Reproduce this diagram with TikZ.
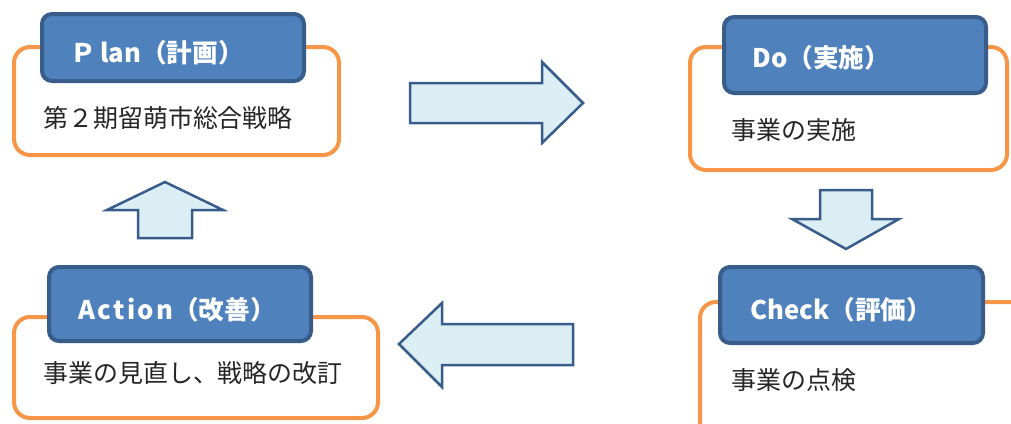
\documentclass[tikz,border=0pt]{standalone}
\usepackage{fontspec}
\newfontfamily\cjk{Noto Sans CJK JP}
\usetikzlibrary{positioning}
\definecolor{headblue}{HTML}{4F81BD}
\definecolor{headline}{HTML}{385D8A}
\definecolor{frameorange}{HTML}{F79646}
\definecolor{arrowfill}{HTML}{DBEEF4}
\newcommand{\pxu}{0.02cm}
\newcommand{\gap}{\kern1.3pt}
\tikzset{
  orangeframe/.style={draw=frameorange, line width=4*\pxu, fill=white,
    rounded corners=16*\pxu, inner sep=0pt},
  bluehead/.style={draw=headline, line width=4*\pxu, fill=headblue,
    rounded corners=10*\pxu, inner sep=0pt, minimum width=262*\pxu},
  headtext/.style={font=\cjk\bfseries\fontsize{14.6}{17}\selectfont,
    text=white, anchor=west, inner sep=0pt},
  bodytext/.style={font=\cjk\fontsize{14.2}{17}\selectfont,
    text=black!85, anchor=west, inner sep=0pt},
  blockarrow/.style={draw=headline, line width=2.5*\pxu, fill=arrowfill,
    line join=miter}
}
\begin{document}
\begin{tikzpicture}[x=\pxu, y=-\pxu]
    \useasboundingbox (0,0) rectangle (1011,423);
    \clip (0,0) rectangle (1011,423);

    % Plan
    \node[orangeframe, minimum width=325*\pxu, minimum height=108*\pxu] (planF) at (176.5,101) {};
    \node[bluehead, minimum height=67*\pxu] (planH) at (173,47.5) {};
    \node[headtext] (planT) at ([xshift=30*\pxu, yshift=-5*\pxu]planH.west) {Ｐ\,lan（計画）};
    \node[bodytext] (planB) at (43,118) {第２期留萌市総合戦略};

    % Do
    \node[orangeframe, minimum width=317*\pxu, minimum height=123*\pxu] (doF) at (848.5,108.5) {};
    \node[bluehead, minimum height=76*\pxu] (doH) at (855,55) {};
    \node[headtext] (doT) at ([xshift=30*\pxu, yshift=-3*\pxu]doH.west) {Do（実施）};
    \node[bodytext] (doB) at (731,130) {事業の実施};

    % Check
    \node[orangeframe, minimum width=330*\pxu, minimum height=138*\pxu] (checkF) at (865,371) {};
    \node[bluehead, minimum width=263*\pxu, minimum height=76*\pxu] (checkH) at (851.5,305) {};
    \node[headtext] (checkT) at ([xshift=32*\pxu, yshift=-5*\pxu]checkH.west) {Check（評価）};
    \node[bodytext] (checkB) at (731,380) {事業の点検};

    % Action
    \node[orangeframe, minimum width=364*\pxu, minimum height=101*\pxu] (actF) at (196,367.5) {};
    \node[bluehead, minimum height=74*\pxu] (actH) at (180,304) {};
    \node[headtext] (actT) at ([xshift=31*\pxu, yshift=-6*\pxu]actH.west) {A\gap c\gap t\gap i\gap o\gap n（改善）};
    \node[bodytext] (actB) at (43,373) {事業の見直し、戦略の改訂};

    % Block arrows
    \draw[blockarrow] (410,83) -- (542,83) -- (542,62) -- (583,103)
        -- (542,143) -- (542,123) -- (410,123) -- cycle;
    \draw[blockarrow] (820,190) -- (872,190) -- (872,219) -- (899,219)
        -- (846,249) -- (792,219) -- (820,219) -- cycle;
    \draw[blockarrow] (573,324) -- (442,324) -- (442,303) -- (399,344)
        -- (442,387) -- (442,365) -- (573,365) -- cycle;
    \draw[blockarrow] (138,238) -- (138,210) -- (107,210) -- (165,182)
        -- (223,210) -- (192,210) -- (192,238) -- cycle;
\end{tikzpicture}
\end{document}
